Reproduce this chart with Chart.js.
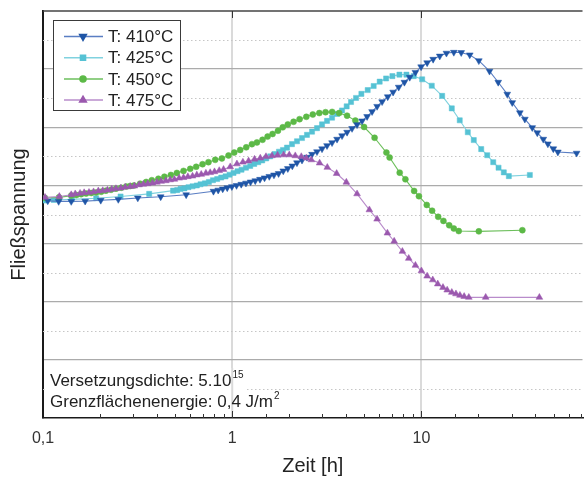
<!DOCTYPE html>
<html>
<head>
<meta charset="utf-8">
<script src="https://cdn.jsdelivr.net/npm/chart.js@4.4.0/dist/chart.umd.min.js"></script>
<style>
html, body { margin: 0; padding: 0; background: #fff; }
canvas { display: block; }
</style>
</head>
<body>
<canvas id="myChart" width="587" height="478"></canvas>
<script>
// Zeit [h] und Fließspannung (relativ, ohne Einheit) je Temperatur
const t410 = [0.106,0.121,0.141,0.167,0.202,0.250,0.317,0.419,0.571,0.796,0.843,0.891,0.941,0.996,1.054,1.116,1.182,1.250,1.323,1.402,1.482,1.570,1.662,1.758,1.861,1.967,2.078,2.199,2.338,2.484,2.641,2.806,2.983,3.170,3.370,3.581,3.806,4.046,4.299,4.569,4.857,5.162,5.486,5.831,6.197,6.635,7.085,7.584,8.130,8.672,9.296,9.96,10.72,11.53,12.50,13.56,14.83,16.23,18.01,20.11,22.90,25.46,28.41,30.20,33.12,35.21,38.53,40.95,44.06,46.59,49.78,52.62,66.08];
const s410 = [7.47,7.45,7.45,7.46,7.49,7.52,7.57,7.61,7.68,7.80,7.84,7.88,7.92,7.96,8.00,8.04,8.08,8.12,8.16,8.21,8.26,8.31,8.36,8.41,8.50,8.58,8.67,8.78,8.87,8.97,9.07,9.16,9.26,9.37,9.47,9.59,9.71,9.83,9.96,10.09,10.22,10.37,10.54,10.72,10.88,11.05,11.21,11.38,11.55,11.72,11.89,12.08,12.22,12.34,12.45,12.55,12.58,12.57,12.49,12.29,11.93,11.55,11.14,10.85,10.50,10.28,9.99,9.81,9.59,9.43,9.26,9.15,9.11];

const t425 = [0.102,0.114,0.142,0.191,0.257,0.364,0.487,0.512,0.533,0.559,0.587,0.617,0.650,0.680,0.717,0.753,0.791,0.833,0.875,0.922,0.968,1.016,1.067,1.120,1.182,1.245,1.307,1.373,1.441,1.513,1.589,1.674,1.767,1.855,1.948,2.070,2.199,2.338,2.484,2.641,2.806,2.983,3.170,3.370,3.581,3.806,4.026,4.246,4.513,4.816,5.200,5.593,6.017,6.506,7.024,7.649,8.331,9.107,10.09,11.34,12.87,14.47,15.94,17.58,18.91,20.70,22.27,23.96,25.56,27.25,28.97,37.41];
const s425 = [7.48,7.50,7.52,7.56,7.62,7.71,7.82,7.84,7.88,7.90,7.94,7.97,8.00,8.04,8.07,8.12,8.18,8.22,8.27,8.31,8.37,8.43,8.49,8.54,8.61,8.67,8.74,8.80,8.86,8.93,9.00,9.08,9.16,9.22,9.30,9.42,9.52,9.63,9.74,9.85,9.97,10.10,10.22,10.33,10.46,10.58,10.72,10.87,11.01,11.15,11.28,11.42,11.57,11.68,11.76,11.81,11.81,11.76,11.65,11.43,11.08,10.65,10.24,9.83,9.56,9.25,9.04,8.80,8.61,8.45,8.32,8.36];

const t450 = [0.1025,0.1215,0.141,0.150,0.159,0.169,0.180,0.191,0.203,0.215,0.229,0.243,0.259,0.275,0.289,0.303,0.326,0.351,0.376,0.407,0.438,0.474,0.510,0.553,0.600,0.645,0.697,0.749,0.813,0.882,0.956,1.025,1.102,1.186,1.271,1.351,1.446,1.538,1.634,1.745,1.850,1.967,2.110,2.270,2.464,2.666,2.886,3.113,3.373,3.674,4.046,4.476,4.977,5.655,6.530,6.789,7.677,8.228,9.150,9.700,10.67,11.39,12.26,13.07,14.02,14.83,15.75,20.11,34.15];
const s450 = [7.57,7.59,7.65,7.67,7.70,7.72,7.74,7.76,7.78,7.82,7.85,7.89,7.92,7.96,7.98,8.00,8.06,8.12,8.18,8.23,8.30,8.36,8.43,8.50,8.57,8.64,8.73,8.80,8.88,8.93,9.03,9.13,9.22,9.31,9.42,9.48,9.57,9.68,9.77,9.88,10.00,10.10,10.19,10.28,10.36,10.44,10.49,10.52,10.53,10.49,10.40,10.23,10.01,9.64,9.13,8.96,8.44,8.21,7.81,7.63,7.33,7.13,6.92,6.78,6.63,6.52,6.43,6.42,6.46];

const t475 = [0.1025,0.122,0.141,0.148,0.157,0.165,0.175,0.185,0.196,0.207,0.219,0.231,0.243,0.258,0.272,0.289,0.304,0.322,0.339,0.358,0.379,0.400,0.421,0.446,0.470,0.495,0.524,0.553,0.583,0.617,0.650,0.686,0.726,0.765,0.806,0.854,0.900,0.976,1.059,1.139,1.220,1.312,1.407,1.508,1.623,1.737,1.869,2.002,2.154,2.318,2.464,2.618,2.897,3.181,3.564,4.011,4.569,5.308,5.831,6.610,7.179,7.933,8.568,9.296,10.0,10.72,11.48,12.20,13.00,13.68,14.47,15.22,15.98,16.82,17.80,21.86,42.01];
const s475 = [7.59,7.62,7.68,7.71,7.73,7.75,7.76,7.78,7.81,7.82,7.84,7.87,7.89,7.91,7.94,7.96,7.98,8.02,8.04,8.06,8.08,8.11,8.14,8.16,8.19,8.21,8.25,8.27,8.30,8.32,8.36,8.38,8.42,8.44,8.47,8.51,8.55,8.64,8.74,8.80,8.84,8.90,8.94,8.99,9.02,9.04,9.05,9.05,9.02,8.99,8.94,8.88,8.77,8.62,8.41,8.11,7.71,7.16,6.84,6.36,6.08,5.73,5.49,5.25,5.06,4.88,4.75,4.61,4.49,4.40,4.32,4.27,4.22,4.18,4.15,4.15,4.15];

const labels = ['T: 410°C', 'T: 425°C', 'T: 450°C', 'T: 475°C'];
const xTickLabels = { 0.1: '0,1', 1: '1', 10: '10' };
const noteLines = [['Versetzungsdichte: 5.10', '15'], ['Grenzflächenenergie: 0,4 J/m', '2']];

const FONT = '"Liberation Sans", Arial, sans-serif';

function pts(t, s) {
	return t.map((v, i) => ({ x: v, y: s[i] }));
}
function isMajor(v) {
	const l = Math.log10(v);
	return Math.abs(l - Math.round(l)) < 1e-6;
}

const datasets = [
	{ label: labels[0], data: pts(t410, s410), borderColor: '#5a7ec3', pointBackgroundColor: '#1f55a6', pointBorderColor: '#1f55a6', pointStyle: 'triangle', pointRotation: 180, pointRadius: 3.9, order: 1 },
	{ label: labels[1], data: pts(t425, s425), borderColor: '#80d2df', pointBackgroundColor: '#56c2d4', pointBorderColor: '#56c2d4', pointStyle: 'rect', pointRotation: 0, pointRadius: 3.6, order: 3 },
	{ label: labels[2], data: pts(t450, s450), borderColor: '#6dbf5c', pointBackgroundColor: '#5cb947', pointBorderColor: '#5cb947', pointStyle: 'circle', pointRotation: 0, pointRadius: 3, order: 2 },
	{ label: labels[3], data: pts(t475, s475), borderColor: '#b98ccb', pointBackgroundColor: '#9b59ae', pointBorderColor: '#9b59ae', pointStyle: 'triangle', pointRotation: 0, pointRadius: 3.9, order: 0 },
];
datasets.forEach((d) => {
	d.borderWidth = 1.1;
	d.pointBorderWidth = 0.5;
	d.tension = 0;
	d.fill = false;
});

// Rahmen, gepunktete Hilfslinien, Innen-Ticks, Notiz und Legende
const extras = {
	id: 'extras',
	beforeDatasetsDraw(chart) {
		const { ctx, chartArea: a, scales: { x, y } } = chart;
		ctx.save();
		ctx.strokeStyle = '#c6c6c6';
		ctx.lineWidth = 1;
		ctx.setLineDash([1.5, 2.5]);
		for (let v = 1; v < 14; v += 2) {
			const py = Math.round(y.getPixelForValue(v)) + 0.5;
			ctx.beginPath();
			ctx.moveTo(a.left, py);
			ctx.lineTo(a.right, py);
			ctx.stroke();
		}
		ctx.setLineDash([]);
		// weißer Hintergrund der Notiz
		ctx.fillStyle = '#fff';
		ctx.fillRect(a.left + 2, 368, 202, 44);
		const p1 = x.getPixelForValue(1);
		ctx.strokeStyle = '#dadada';
		ctx.lineWidth = 2;
		ctx.beginPath();
		ctx.moveTo(p1, 368);
		ctx.lineTo(p1, 412);
		ctx.stroke();
		ctx.restore();
	},
	afterDatasetsDraw(chart) {
		const { ctx, chartArea: a, scales: { x } } = chart;
		ctx.save();
		// obere Rahmenlinie
		ctx.strokeStyle = '#444';
		ctx.lineWidth = 1.5;
		ctx.beginPath();
		ctx.moveTo(a.left, a.top);
		ctx.lineTo(a.right, a.top);
		ctx.stroke();
		// Ticks nach innen
		ctx.strokeStyle = '#333';
		ctx.lineWidth = 1;
		x.ticks.forEach((tk) => {
			const v = tk.value;
			if (v <= x.min * 1.0001 || v >= x.max * 0.9999) return;
			const px = Math.round(x.getPixelForValue(v)) + 0.5;
			const len = isMajor(v) ? 7 : 4;
			ctx.beginPath();
			ctx.moveTo(px, a.bottom);
			ctx.lineTo(px, a.bottom - len);
			ctx.stroke();
			if (isMajor(v)) {
				ctx.beginPath();
				ctx.moveTo(px, a.top);
				ctx.lineTo(px, a.top + 7);
				ctx.stroke();
			}
		});
		// Notiz
		ctx.fillStyle = '#222';
		ctx.textBaseline = 'alphabetic';
		const baseY = [386, 407];
		noteLines.forEach((ln, i) => {
			ctx.font = '17px ' + FONT;
			ctx.fillText(ln[0], 50, baseY[i]);
			const w = ctx.measureText(ln[0]).width;
			ctx.font = '10px ' + FONT;
			ctx.fillText(ln[1], 50 + w + 1, baseY[i] - 8);
		});
		// Legende
		ctx.fillStyle = '#fff';
		ctx.fillRect(53, 20, 127, 90);
		ctx.strokeStyle = '#3a3a3a';
		ctx.lineWidth = 1;
		ctx.strokeRect(53.5, 20.5, 127, 90);
		chart.data.datasets.forEach((d, i) => {
			const ly = 36.5 + i * 21.2;
			ctx.strokeStyle = d.borderColor;
			ctx.lineWidth = 1.5;
			ctx.beginPath();
			ctx.moveTo(64, ly);
			ctx.lineTo(103, ly);
			ctx.stroke();
			ctx.fillStyle = d.pointBackgroundColor;
			ctx.strokeStyle = d.pointBorderColor;
			Chart.helpers.drawPoint(ctx, { pointStyle: d.pointStyle, rotation: d.pointRotation, radius: d.pointRadius, borderWidth: 0.5 }, 83, ly);
			ctx.fillStyle = '#222';
			ctx.font = '17px ' + FONT;
			ctx.textBaseline = 'middle';
			ctx.fillText(d.label, 108, ly + 1);
		});
		ctx.restore();
	},
};

var chartArea = document.getElementById('myChart').getContext('2d');
var myChart = new Chart(chartArea, {
	type: 'line',
	data: { datasets: datasets },
	options: {
		responsive: false,
		animation: false,
		devicePixelRatio: 1,
		layout: { padding: { top: 11, right: 0, left: 0, bottom: 0 } },
		plugins: {
			legend: { display: false },
			tooltip: { enabled: false },
		},
		scales: {
			x: {
				type: 'logarithmic',
				min: 0.1,
				max: 71,
				afterFit: (s) => {
					s.height = 60;
					s.paddingLeft = 0;
					s.paddingRight = 0;
				},
				grid: {
					drawTicks: false,
					lineWidth: 2,
					color: (c) => (c.tick && isMajor(c.tick.value) && c.tick.value > 0.2 ? '#dadada' : 'rgba(0,0,0,0)'),
				},
				border: { color: '#1a1a1a', width: 1.5 },
				ticks: {
					autoSkip: false,
					maxRotation: 0,
					padding: 11,
					color: '#333',
					font: { family: FONT, size: 16 },
					callback: (v) => xTickLabels[Number(Number(v).toPrecision(6))] || '',
				},
				title: {
					display: true,
					text: 'Zeit [h]',
					color: '#222',
					font: { family: FONT, size: 20 },
					padding: { top: 0, bottom: 0 },
				},
			},
			y: {
				min: 0,
				max: 14,
				afterFit: (s) => { s.width = 43; },
				grid: {
					drawTicks: false,
					lineWidth: 1.3,
					color: (c) => (c.tick && c.tick.value % 2 === 0 && c.tick.value > 0 && c.tick.value < 14 ? '#ababab' : 'rgba(0,0,0,0)'),
				},
				border: { color: '#1a1a1a', width: 2 },
				ticks: { display: false, stepSize: 1 },
				title: {
					display: true,
					text: 'Fließspannung',
					color: '#222',
					font: { family: FONT, size: 20 },
					padding: { top: 7, bottom: 0 },
				},
			},
		},
	},
	plugins: [extras],
});
</script>
</body>
</html>
